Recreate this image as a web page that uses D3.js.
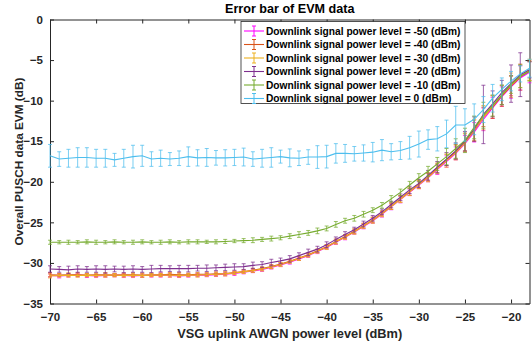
<!DOCTYPE html>
<html>
<head>
<meta charset="utf-8">
<script src="https://cdn.jsdelivr.net/npm/d3@7"></script>
<style>
  html, body { margin: 0; padding: 0; background: #fff; }
  svg { display: block; font-family: "Liberation Sans", Arial, sans-serif; }
  .axis text { font-size: 11.5px; font-weight: bold; fill: #262626; }
  .axis path, .axis line { stroke: #262626; }
</style>
</head>
<body>
<svg id="chart" width="532" height="347"></svg>
<script>
// x positions: uplink AWGN power level, -70 .. -18 dBm in 1 dB steps
var xValues = d3.range(-70, -17, 1);
var xTicks = [-70, -65, -60, -55, -50, -45, -40, -35, -30, -25, -20];
var yTicks = [-35, -30, -25, -20, -15, -10, -5, 0];

var seriesNames = [
  "Downlink signal power level = -50 (dBm)",
  "Downlink signal power level = -40 (dBm)",
  "Downlink signal power level = -30 (dBm)",
  "Downlink signal power level = -20 (dBm)",
  "Downlink signal power level = -10 (dBm)",
  "Downlink signal power level = 0 (dBm)"
];
var seriesColors = ["#ff00ff", "#d95319", "#edb120", "#7e2f8e", "#77ac30", "#4dbeee"];

var evmM50 = [-31.55,-31.6,-31.55,-31.5,-31.55,-31.6,-31.55,-31.5,-31.55,-31.6,-31.55,-31.55,-31.5,-31.55,-31.6,-31.55,-31.5,
  -31.5,-31.45,-31.4,-31.3,-31.15,-31.0,-30.8,-30.55,-30.25,-29.9,-29.5,-29.1,-28.6,-28.1,-27.45,-26.85,-26.2,-25.5,-24.8,-24.0,
  -23.1,-22.2,-21.3,-20.4,-19.5,-18.5,-17.5,-16.5,-15.3,-13.9,-12.3,-10.9,-9.5,-8.3,-7.2,-6.5];
var errM50 = [0.2,0.25,0.2,0.2,0.25,0.2,0.2,0.2,0.25,0.2,0.2,0.2,0.25,0.2,0.2,0.2,0.2,
  0.2,0.2,0.2,0.25,0.2,0.2,0.25,0.2,0.2,0.25,0.2,0.2,0.25,0.2,0.25,0.3,0.25,0.3,0.3,0.35,
  0.35,0.4,0.4,0.45,0.5,0.6,0.7,0.8,1.0,1.2,1.4,1.3,1.2,1.4,1.5,1.3];

var evmM40 = [-31.45,-31.5,-31.45,-31.45,-31.5,-31.45,-31.45,-31.5,-31.45,-31.45,-31.5,-31.45,-31.45,-31.4,-31.45,-31.45,-31.4,
  -31.4,-31.35,-31.3,-31.2,-31.05,-30.9,-30.7,-30.45,-30.15,-29.8,-29.4,-29.0,-28.5,-28.0,-27.35,-26.75,-26.1,-25.4,-24.7,-23.9,
  -23.0,-22.1,-21.2,-20.3,-19.4,-18.3,-17.3,-16.3,-15.1,-13.7,-12.0,-10.8,-9.4,-8.2,-7.1,-6.3];
var errM40 = [0.25,0.2,0.2,0.25,0.2,0.2,0.25,0.2,0.2,0.2,0.25,0.2,0.2,0.2,0.25,0.2,0.2,
  0.2,0.25,0.2,0.2,0.2,0.25,0.2,0.25,0.2,0.2,0.25,0.25,0.2,0.25,0.3,0.25,0.3,0.3,0.35,0.3,
  0.4,0.4,0.45,0.5,0.5,0.6,0.7,0.9,1.1,1.3,1.2,1.4,1.3,1.2,1.6,1.2];

var evmM30 = [-31.6,-31.55,-31.5,-31.55,-31.5,-31.55,-31.5,-31.5,-31.55,-31.5,-31.55,-31.5,-31.5,-31.5,-31.55,-31.5,-31.5,
  -31.45,-31.4,-31.35,-31.25,-31.1,-30.95,-30.75,-30.5,-30.2,-29.85,-29.45,-29.05,-28.55,-28.05,-27.4,-26.8,-26.15,-25.45,-24.75,-23.95,
  -23.05,-22.15,-21.25,-20.35,-19.45,-18.4,-17.4,-16.4,-15.2,-13.6,-12.1,-10.7,-9.3,-8.1,-7.0,-6.2];
var errM30 = [0.25,0.2,0.25,0.2,0.2,0.2,0.25,0.2,0.2,0.25,0.2,0.2,0.2,0.25,0.2,0.2,0.25,
  0.2,0.2,0.25,0.2,0.2,0.2,0.25,0.2,0.25,0.2,0.25,0.2,0.25,0.3,0.25,0.3,0.3,0.3,0.35,0.35,
  0.35,0.4,0.45,0.5,0.55,0.6,0.8,0.9,1.1,1.3,1.5,1.3,1.2,1.5,1.4,1.3];

var evmM20 = [-30.75,-30.8,-30.85,-30.75,-30.8,-30.75,-30.8,-30.75,-30.8,-30.75,-30.8,-30.75,-30.7,-30.7,-30.7,-30.7,-30.65,
  -30.65,-30.6,-30.55,-30.5,-30.45,-30.3,-30.2,-29.95,-29.75,-29.5,-29.1,-28.7,-28.3,-27.75,-27.1,-26.5,-25.9,-25.2,-24.5,-23.7,
  -22.8,-21.9,-21.0,-20.2,-19.2,-18.2,-17.2,-16.2,-15.0,-13.5,-11.7,-10.4,-9.0,-7.9,-6.8,-6.2];
var errM20 = [0.4,0.35,0.45,0.4,0.35,0.4,0.45,0.35,0.4,0.4,0.35,0.45,0.4,0.35,0.4,0.4,0.35,
  0.4,0.35,0.4,0.4,0.35,0.4,0.35,0.4,0.35,0.4,0.35,0.4,0.35,0.35,0.3,0.35,0.3,0.35,0.35,0.35,
  0.4,0.4,0.45,0.5,0.6,0.7,0.8,1.0,1.2,1.5,3.6,1.6,1.5,2.3,2.7,1.0];

var evmM10 = [-27.45,-27.45,-27.45,-27.45,-27.4,-27.45,-27.45,-27.4,-27.45,-27.45,-27.4,-27.45,-27.45,-27.4,-27.45,-27.4,-27.4,
  -27.4,-27.4,-27.35,-27.3,-27.25,-27.2,-27.1,-27.0,-26.9,-26.7,-26.5,-26.3,-26.05,-25.75,-25.25,-24.8,-24.5,-24.0,-23.5,-22.9,
  -22.1,-21.3,-20.4,-19.5,-18.7,-17.8,-16.9,-15.9,-14.9,-13.3,-11.8,-10.6,-9.3,-8.0,-7.0,-6.4];
var errM10 = [0.25,0.2,0.25,0.2,0.25,0.25,0.2,0.25,0.2,0.25,0.25,0.2,0.25,0.25,0.2,0.25,0.25,
  0.2,0.25,0.25,0.2,0.25,0.3,0.25,0.3,0.25,0.3,0.35,0.3,0.35,0.3,0.35,0.3,0.35,0.35,0.3,0.35,
  0.4,0.4,0.45,0.5,0.6,0.8,1.0,1.2,1.5,1.4,1.6,1.3,1.2,1.1,1.4,1.2];

var evm0 = [-16.8,-17.2,-17.1,-17.0,-17.0,-17.1,-17.1,-17.3,-17.1,-16.9,-16.8,-17.2,-17.1,-17.2,-17.1,-16.9,-17.05,-17.0,-17.05,-17.05,-17.0,
  -16.95,-17.2,-17.1,-17.0,-16.9,-17.05,-17.1,-16.95,-16.95,-16.9,-16.5,-16.5,-16.55,-16.45,-16.35,-16.1,-16.3,-16.15,
  -15.8,-15.35,-14.8,-14.7,-14.1,-13.0,-13.0,-12.3,-11.1,-9.7,-8.6,-7.6,-6.7,-6.0];
var err0 = [1.4,0.9,1.1,1.2,1.2,1.1,1.1,0.8,1.1,1.4,1.3,0.9,1.0,0.8,0.9,1.2,1.0,1.1,0.9,1.0,1.0,
  1.1,0.9,1.1,1.2,0.8,1.1,0.9,0.9,1.4,1.4,1.2,1.1,0.9,1.0,1.2,1.3,1.0,1.1,
  1.4,1.6,1.2,1.5,1.7,2.3,2.0,1.9,1.6,1.7,1.4,1.2,1.0,1.1];

var seriesValues = [evmM50, evmM40, evmM30, evmM20, evmM10, evm0];
var seriesErrors = [errM50, errM40, errM30, errM20, errM10, err0];

var svg = d3.select("#chart");
var margin = { top: 19.5, right: 2.5, bottom: 43.5, left: 50 };
var width = +svg.attr("width") - margin.left - margin.right;
var height = +svg.attr("height") - margin.top - margin.bottom;
var g = svg.append("g").attr("transform", "translate(" + margin.left + "," + margin.top + ")");

var x = d3.scaleLinear().domain([-70, -18]).range([0, width]);
var y = d3.scaleLinear().domain([-35, 0]).range([height, 0]);

// axes, MATLAB style: ticks inside, box on
g.append("g").attr("class", "axis")
  .attr("transform", "translate(0," + height + ")")
  .call(d3.axisBottom(x).tickValues(xTicks).tickSizeInner(-4).tickSizeOuter(0).tickPadding(9));
g.append("g").attr("class", "axis")
  .call(d3.axisTop(x).tickValues(xTicks).tickSizeInner(-4).tickSizeOuter(0).tickFormat(""));
g.append("g").attr("class", "axis")
  .call(d3.axisLeft(y).tickValues(yTicks).tickSizeInner(-4).tickSizeOuter(0).tickPadding(7));
g.append("g").attr("class", "axis")
  .attr("transform", "translate(" + width + ",0)")
  .call(d3.axisRight(y).tickValues(yTicks).tickSizeInner(-4).tickSizeOuter(0).tickFormat(""));
g.selectAll(".axis .domain").attr("stroke-width", 1);

var line = d3.line()
  .x(function (d) { return x(d[0]); })
  .y(function (d) { return y(d[1]); });

var capW = 2;
seriesValues.forEach(function (vals, k) {
  var pts = xValues.map(function (xv, i) { return [xv, vals[i], seriesErrors[k][i]]; });
  var s = g.append("g").attr("stroke", seriesColors[k]).attr("fill", "none");
  var bars = s.append("g").attr("stroke-opacity", 0.75).attr("stroke-width", 1);
  bars.selectAll("line.v").data(pts).enter().append("line")
    .attr("x1", function (d) { return x(d[0]); })
    .attr("x2", function (d) { return x(d[0]); })
    .attr("y1", function (d) { return y(d[1] + d[2]); })
    .attr("y2", function (d) { return y(d[1] - d[2]); });
  bars.selectAll("line.t").data(pts).enter().append("line")
    .attr("x1", function (d) { return x(d[0]) - capW; })
    .attr("x2", function (d) { return x(d[0]) + capW; })
    .attr("y1", function (d) { return y(d[1] + d[2]); })
    .attr("y2", function (d) { return y(d[1] + d[2]); });
  bars.selectAll("line.b").data(pts).enter().append("line")
    .attr("x1", function (d) { return x(d[0]) - capW; })
    .attr("x2", function (d) { return x(d[0]) + capW; })
    .attr("y1", function (d) { return y(d[1] - d[2]); })
    .attr("y2", function (d) { return y(d[1] - d[2]); });
  s.append("path").datum(pts).attr("stroke-width", 1.1).attr("d", line);
});

// title and axis labels
svg.append("text")
  .attr("x", margin.left + width / 2).attr("y", 13)
  .attr("text-anchor", "middle")
  .style("font-size", "12.6px").style("font-weight", "bold").attr("fill", "#000")
  .text("Error bar of EVM data");
svg.append("text")
  .attr("x", margin.left + width / 2).attr("y", 338)
  .attr("text-anchor", "middle")
  .style("font-size", "12.8px").style("font-weight", "bold").attr("fill", "#262626")
  .text("VSG uplink AWGN power level (dBm)");
svg.append("text")
  .attr("transform", "translate(23," + (margin.top + height / 2) + ") rotate(-90)")
  .attr("text-anchor", "middle")
  .style("font-size", "11.8px").style("font-weight", "bold").attr("fill", "#262626")
  .text("Overall PUSCH data EVM (dB)");

// legend
var lg = svg.append("g").attr("transform", "translate(241,21.5)");
lg.append("rect").attr("width", 224).attr("height", 82)
  .attr("fill", "#fff").attr("stroke", "#262626").attr("stroke-width", 0.8);
seriesNames.forEach(function (name, k) {
  var ry = 9.5 + k * 13.5;
  var row = lg.append("g").attr("transform", "translate(0," + ry + ")");
  row.append("line").attr("x1", 3).attr("x2", 23).attr("y1", 0).attr("y2", 0)
    .attr("stroke", seriesColors[k]).attr("stroke-width", 1.1);
  row.append("line").attr("x1", 13).attr("x2", 13).attr("y1", -5).attr("y2", 5)
    .attr("stroke", seriesColors[k]).attr("stroke-width", 1);
  row.append("line").attr("x1", 11).attr("x2", 15).attr("y1", -5).attr("y2", -5)
    .attr("stroke", seriesColors[k]);
  row.append("line").attr("x1", 11).attr("x2", 15).attr("y1", 5).attr("y2", 5)
    .attr("stroke", seriesColors[k]);
  row.append("text").attr("x", 25).attr("y", 3.6)
    .style("font-size", "10.2px").style("font-weight", "bold").attr("fill", "#000")
    .text(name);
});
</script>
</body>
</html>
